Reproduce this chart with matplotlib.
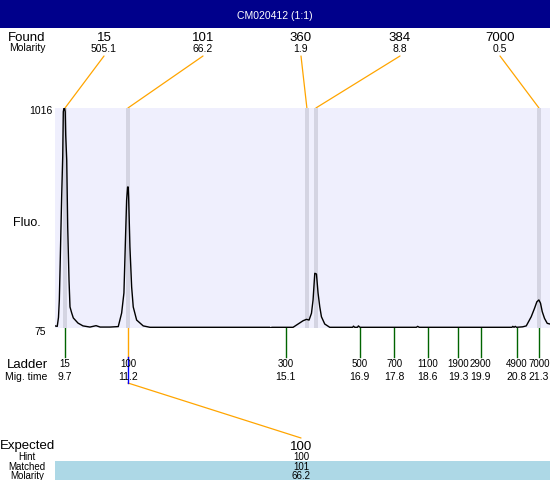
import matplotlib
matplotlib.use("Agg")
import matplotlib.pyplot as plt
from matplotlib import transforms
from matplotlib.patches import Rectangle, ConnectionPatch

plt.rcParams["font.family"] = ["Liberation Sans", "DejaVu Sans"]

TITLE = "CM020412 (1:1)"

# electropherogram trace (migration time, fluorescence)
trace_t = [9.455, 9.51, 9.54, 9.561, 9.578, 9.619, 9.644, 9.658, 9.675, 9.69, 9.705, 9.717, 9.742,
           9.766, 9.798, 9.822, 9.864, 9.903, 10.018, 10.14, 10.31, 10.46, 10.56, 10.80,
           11.003, 11.086, 11.142, 11.184, 11.208, 11.232, 11.247, 11.257, 11.289, 11.331,
           11.370, 11.453, 11.614, 11.78, 14.71, 14.74, 14.76, 15.282, 15.404, 15.526,
           15.609, 15.673, 15.732, 15.771, 15.813, 15.854, 15.893, 15.935, 15.976, 16.057,
           16.179, 16.74, 16.76, 16.79, 16.86, 16.88, 16.92, 18.30, 18.33, 18.37, 20.64,
           20.66, 20.69, 20.72, 20.75, 20.90, 20.989, 21.110, 21.191, 21.248, 21.297,
           21.338, 21.380, 21.436, 21.502, 21.57]
trace_f = [84, 82, 120, 195, 323, 644, 808, 1000, 1016, 1016, 1000, 900, 794,
           507, 280, 165, 139, 118, 96, 84, 79, 85, 79, 79,
           81, 139, 225, 481, 622, 678, 678, 635, 421, 250,
           165, 109, 84, 78, 78, 75, 78, 78, 92, 106,
           112, 109, 138, 195, 309, 306, 225, 166, 123, 92,
           78, 78, 83, 78, 78, 84, 78, 78, 82, 78, 78,
           82, 78, 82, 78, 80, 84, 123, 159, 187, 195,
           181, 145, 116, 95, 92]

Y_MIN, Y_MAX = 75, 1016
T_MIN, T_MAX = 9.455, 21.57

found_sizes = ["15", "101", "360", "384", "7000"]
found_molarity = ["505.1", "66.2", "1.9", "8.8", "0.5"]
found_times = [9.70, 11.24, 15.62, 15.84, 21.30]

ladder_sizes = ["15", "100", "300", "500", "700", "1100", "1900", "2900", "4900", "7000"]
ladder_labels = ["9.7", "11.2", "15.1", "16.9", "17.8", "18.6", "19.3", "19.9", "20.8", "21.3"]
ladder_times = [9.70, 11.24, 15.10, 16.91, 17.76, 18.58, 19.32, 19.87, 20.76, 21.30]
matched_ladder = 1

expected = "100"
hint = "100"
matched = "101"
matched_molarity = "66.2"

ORANGE = "#FFA500"
GREEN = "#006400"
BAND = "#D4D4E2"
BG = "#EFEFFD"

W, H = 550, 480
fig = plt.figure(figsize=(5.5, 4.8), dpi=100)

# overlay in pixel coordinates for all the text furniture
ov = fig.add_axes([0, 0, 1, 1])
ov.set_xlim(0, W); ov.set_ylim(H, 0); ov.axis("off")

ax = fig.add_axes([55 / W, 1 - 328 / H, 495 / W, 220 / H], zorder=2)
ax.set_facecolor(BG)
ax.set_xlim(T_MIN, T_MAX); ax.set_ylim(Y_MIN, Y_MAX)
for s in ax.spines.values(): s.set_visible(False)
ax.set_xticks([]); ax.set_yticks([])

for t in found_times:
    ax.axvspan(t - 0.05, t + 0.05, color=BAND, lw=0, zorder=1)
ax.plot(trace_t, trace_f, color="black", lw=1.0, zorder=3)

# x in time units, y in pixels
tx = transforms.blended_transform_factory(ax.transData, ov.transData)

# title bar
ov.add_patch(Rectangle((0, 0), W, 28, color="#00008B", lw=0))
ov.text(W / 2, 19, TITLE, color="white", fontsize=7.5, ha="center", va="baseline")

# found peaks
ov.text(8, 41, "Found", fontsize=9.5, va="baseline")
ov.text(9, 51, "Molarity", fontsize=7.5, va="baseline")
found_x = [104, 203, 301, 400, 500]
for x, size, mol, t in zip(found_x, found_sizes, found_molarity, found_times):
    ov.text(x, 41, size, fontsize=9.5, ha="center", va="baseline")
    ov.text(x, 52, mol, fontsize=7.5, ha="center", va="baseline")
    con = ConnectionPatch(xyA=(x, 56), coordsA=ov.transData, xyB=(t, Y_MAX),
                          coordsB=ax.transData, color=ORANGE, lw=0.9)
    fig.add_artist(con)

# y axis labels
ov.text(52, 114, "1016", fontsize=7.5, ha="right", va="baseline")
ov.text(46, 335, "75", fontsize=7.5, ha="right", va="baseline")
ov.text(13, 226, "Fluo.", fontsize=9, va="baseline")

# ladder
ov.text(7, 367.5, "Ladder", fontsize=9.5, va="baseline")
ov.text(5, 380, "Mig. time", fontsize=7.5, va="baseline")
for i, (size, lab, t) in enumerate(zip(ladder_sizes, ladder_labels, ladder_times)):
    col = ORANGE if i == matched_ladder else GREEN
    ov.plot([t, t], [328, 357], color=col, lw=1.0, transform=tx)
    ov.text(t, 367, size, fontsize=7, ha="center", va="baseline", transform=tx)
    ov.text(t, 380, lab, fontsize=7.5, ha="center", va="baseline", transform=tx)

tm = ladder_times[matched_ladder]
ov.plot([tm, tm], [357, 383], color="blue", lw=1.0, transform=tx)
ov.add_artist(ConnectionPatch(xyA=(tm, 383), coordsA=tx, xyB=(301, 438),
                              coordsB=ov.transData, color=ORANGE, lw=0.9))

# expected table
ov.add_patch(Rectangle((55, 461), W - 55, 19, color="#ADD8E6", lw=0))
ov.text(0, 449, "Expected", fontsize=9.5, va="baseline")
ov.text(27, 460, "Hint", fontsize=7, ha="center", va="baseline")
ov.text(27, 470, "Matched", fontsize=7, ha="center", va="baseline")
ov.text(27, 479, "Molarity", fontsize=7, ha="center", va="baseline")
ov.text(301, 450, expected, fontsize=9.5, ha="center", va="baseline")
ov.text(301, 460, hint, fontsize=7, ha="center", va="baseline")
ov.text(301, 470, matched, fontsize=7, ha="center", va="baseline")
ov.text(301, 479, matched_molarity, fontsize=7, ha="center", va="baseline")

fig.savefig("out.png", dpi=100)
